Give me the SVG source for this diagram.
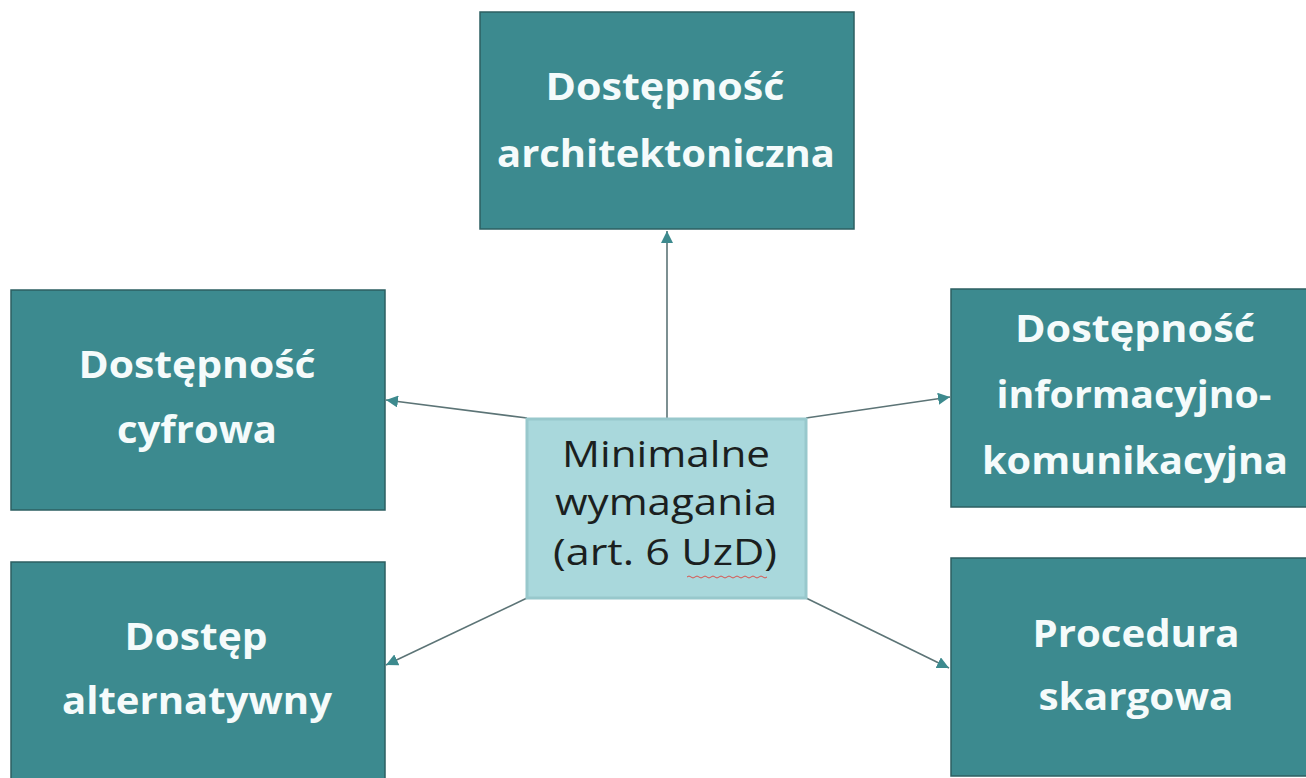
<svg xmlns="http://www.w3.org/2000/svg" width="1306" height="778" viewBox="0 0 1306 778">
<style>
.box{fill:#3c8a8f;stroke:#2c5f62;stroke-width:1.5}
.center{fill:#a9d8dc;stroke:#98c8cc;stroke-width:3}
.lbl{font-family:"Open Sans","Noto Sans","Liberation Sans",sans-serif;font-weight:700;font-size:37px;fill:#f5fbfb;text-anchor:middle}
.clbl{font-family:"Open Sans","Noto Sans","Liberation Sans",sans-serif;font-weight:400;font-size:36px;fill:#1b1f20;text-anchor:middle}
.conn{stroke:#5c7476;stroke-width:1.6;fill:none;marker-end:url(#ah)}
</style>
<defs>
<marker id="ah" markerUnits="userSpaceOnUse" markerWidth="14" markerHeight="12" refX="12" refY="6" orient="auto">
<path d="M0,0 L12,6 L0,12 Z" fill="#3d8a8e"/>
</marker>
</defs>
<rect width="1306" height="778" fill="#ffffff"/>
<g id="connectors">
<line class="conn" x1="667" y1="418" x2="667" y2="231"/>
<line class="conn" x1="527" y1="418" x2="386" y2="400"/>
<line class="conn" x1="806" y1="418" x2="950" y2="397"/>
<line class="conn" x1="527" y1="598" x2="386" y2="665"/>
<line class="conn" x1="806" y1="598" x2="949" y2="668"/>
</g>
<g id="n-arch">
<rect class="box" x="480" y="12" width="374" height="217"/>
<text class="lbl" x="665" y="100" textLength="239" lengthAdjust="spacingAndGlyphs">Dostępność</text>
<text class="lbl" x="666" y="167" textLength="338" lengthAdjust="spacingAndGlyphs">architektoniczna</text>
</g>
<g id="n-cyfr">
<rect class="box" x="11" y="290" width="374" height="220"/>
<text class="lbl" x="197" y="378" textLength="237" lengthAdjust="spacingAndGlyphs">Dostępność</text>
<text class="lbl" x="197" y="443" textLength="160" lengthAdjust="spacingAndGlyphs">cyfrowa</text>
</g>
<g id="n-info">
<rect class="box" x="951" y="289" width="374" height="218"/>
<text class="lbl" x="1135" y="342" textLength="240" lengthAdjust="spacingAndGlyphs">Dostępność</text>
<text class="lbl" x="1134" y="408" textLength="275" lengthAdjust="spacingAndGlyphs">informacyjno-</text>
<text class="lbl" x="1135" y="474" textLength="306" lengthAdjust="spacingAndGlyphs">komunikacyjna</text>
</g>
<g id="n-alt">
<rect class="box" x="11" y="562" width="374" height="220"/>
<text class="lbl" x="196" y="650" textLength="143" lengthAdjust="spacingAndGlyphs">Dostęp</text>
<text class="lbl" x="197" y="714" textLength="270" lengthAdjust="spacingAndGlyphs">alternatywny</text>
</g>
<g id="n-skarg">
<rect class="box" x="951" y="558" width="374" height="218"/>
<text class="lbl" x="1136" y="647" textLength="207" lengthAdjust="spacingAndGlyphs">Procedura</text>
<text class="lbl" x="1136" y="710" textLength="195" lengthAdjust="spacingAndGlyphs">skargowa</text>
</g>
<g id="n-center">
<rect class="center" x="527" y="419" width="279" height="179"/>
<text class="clbl" x="666" y="467" textLength="208" lengthAdjust="spacingAndGlyphs">Minimalne</text>
<text class="clbl" x="666" y="515" textLength="222" lengthAdjust="spacingAndGlyphs">wymagania</text>
<text class="clbl" x="665" y="565" textLength="224" lengthAdjust="spacingAndGlyphs">(art. 6 UzD)</text>
<path d="M687,577 q2,-2 4,0 t4,0 t4,0 t4,0 t4,0 t4,0 t4,0 t4,0 t4,0 t4,0 t4,0 t4,0 t4,0 t4,0 t4,0 t4,0 t4,0 t4,0 t4,0 t4,0" fill="none" stroke="#d9534f" stroke-width="1"/>
</g>
</svg>
